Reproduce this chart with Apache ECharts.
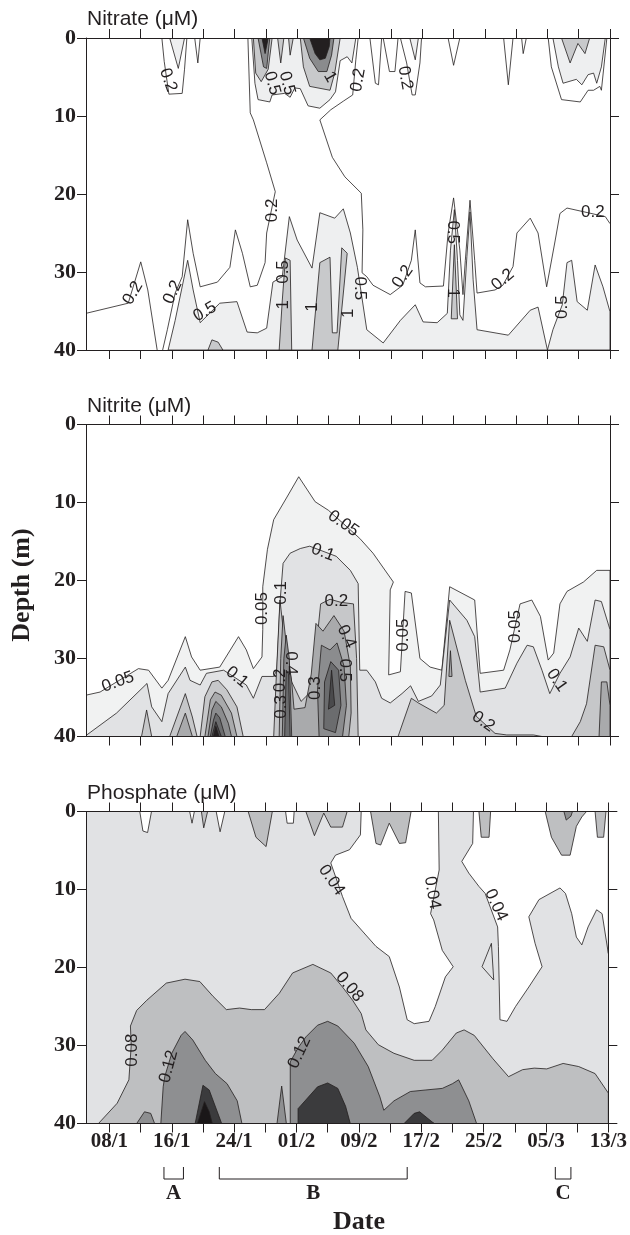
<!DOCTYPE html>
<html><head><meta charset="utf-8">
<script src="https://cdn.jsdelivr.net/npm/echarts@6/dist/echarts.min.js"></script>
<style>html,body{margin:0;padding:0;background:#fff}#c{width:630px;height:1235px}</style>
</head><body><div id="c"></div>
<script>
// x = day of year (1 = 1 Jan, non-leap year): 05/1 = 5 ... 13/3 = 72 ; y = depth (m)
const dayMin = 5, dayMax = 72;
const tickDays = [8,12,16,20,24,28,32,36,40,44,48,52,56,60,64,68,72];
const labelDays = [8,16,24,32,40,48,56,64,72];
const dateLabels = ['08/1','16/1','24/1','01/2','09/2','17/2','25/2','05/3','13/3'];
const panelTitles = ['Nitrate (\u03bcM)', 'Nitrite (\u03bcM)', 'Phosphate (\u03bcM)'];
const brackets = [['A',15.0,17.5],['B',22.1,46.2],['C',65.2,67.2]];

// ---------- Nitrate: contour levels 0.2, 0.5, 1, 2, 5 ----------
const nitrate02Lines = [
 [[5,35.3],[10.4,34],[12,28.7],[12.9,32.3],[14.1,40]],
 [[14.8,40],[15.4,37.4],[16.4,32.7],[17.3,30.6],[18.0,23.3],[18.7,27.6],[19.6,31.9],[21.8,31.3],[23.4,29.4],[24.1,24.6],[25.0,27.6],[26.0,31.9],[26.9,31.7],[27.9,28.8],[28.1,25.0],[29.2,19.7],[28.1,16.0],[26.4,10.5],[26.0,9.6],[25.7,0]],
 [[39.8,0],[39.5,2.8],[39.1,7.3],[37.9,8.1],[36.3,9.2],[34.9,10.5],[36.5,15.3],[38.1,17.8],[40.2,19.9],[40.4,24.6],[40.3,30.1],[40.9,30.6],[41.7,31.7],[43.9,32.9],[45.5,31.7],[46.6,28.5],[47.1,24.6],[47.7,31.4],[48.4,31.9],[50.7,31.8],[51.3,25.0],[52.0,20.5],[52.8,27.2],[53.2,32.9],[53.5,28.5],[54.1,20.8],[54.7,28.5],[55.0,32.7],[57.3,32.3],[58.3,31.7],[59.6,29.3],[60.1,25.0],[61.8,23.1],[62.8,25.0],[63.9,31.9],[65.0,25.9],[65.6,22.5],[66.5,21.8],[71.4,22.9],[72,23.8]]
];
const nitrate02Areas = [
 [[14.7,0],[15.0,3],[15.6,7.2],[17.3,7.1],[17.6,4],[17.9,0]],
 [[18.9,0],[19.3,3.2],[19.6,0]],
 [[41.3,0],[42.0,5.8],[42.4,6.0],[42.8,0]],
 [[43.0,0],[43.8,4.3],[44.5,4.3],[44.9,0]],
 [[45.2,0],[46.0,3.2],[46.7,7.3],[47.1,7.3],[47.7,3.2],[47.9,0]],
 [[51.3,0],[52.0,3.5],[52.8,0]],
 [[58.4,0],[59.0,6.0],[59.6,0]],
 [[60.7,0],[60.9,2.0],[61.3,0]],
 [[64.1,0],[64.5,3.7],[65.8,7.9],[68.2,8.2],[69.2,6.7],[69.9,6.7],[70.7,6.2],[70.9,6.7],[71.6,0]]
];
const nitrate05Areas = [
 [[15.5,40],[16.4,36.2],[18.0,28.5],[18.7,32.3],[19.6,36.5],[22.1,34.0],[24.3,33.8],[25.6,37.7],[26.9,37.8],[28.1,37.2],[28.9,31.3],[30.1,30.6],[31.0,22.9],[32.0,25.9],[33.9,29.5],[34.9,22.4],[36.8,23.1],[37.9,21.9],[38.8,25],[39.7,29.4],[40.9,37.4],[43.0,39.1],[45.2,36.2],[47.1,34.2],[48.1,36.4],[49.9,36.5],[51.2,35.3],[51.6,27.2],[52.1,22.0],[52.5,28.5],[52.8,35.5],[53.2,36.2],[53.7,28],[54.1,22.3],[54.5,31],[55.0,37.4],[59.0,38.1],[61.8,34.9],[62.8,34.5],[64.0,40],[64.7,37.4],[65.9,34.2],[66.5,28.8],[67.1,28.5],[67.8,33.8],[69.1,34.9],[70.1,29.1],[71.1,31.9],[72,35.1],[72,40]],
 [[15.7,0],[16.8,3.9],[17.6,0]],
 [[26.2,0],[26.6,5.8],[27.0,7.9],[28.5,8.2],[28.8,7.3],[30.4,7.1],[31.1,7.6],[31.7,6.4],[32.4,6.5],[33.4,8.7],[34.9,9.0],[36.2,7.9],[36.9,6.9],[37.5,2.9],[38.4,2.4],[39.0,3.2],[39.5,0]],
 [[46.4,0],[47.1,2.8],[47.5,0]],
 [[64.7,0],[65.4,3.7],[66.0,5.8],[67.7,5.3],[68.4,6.0],[69.2,4.7],[69.9,4.5],[70.3,5.8],[70.9,3.7],[71.4,0]]
];
const nitrate1Areas = [
 [[29.7,40],[30.1,33.6],[30.5,28.2],[31.1,28.5],[31.3,40]],
 [[33.9,40],[34.9,28.8],[36.2,28.1],[36.5,37.8],[37.1,37.8],[37.7,26.9],[38.4,27.6],[37.2,40]],
 [[20.6,40],[21.1,38.7],[21.9,39],[22.5,40]],
 [[51.7,36],[52.1,26.5],[52.5,36]],
 [[26.4,0],[26.7,4.5],[27.4,5.6],[28.3,4],[28.8,0]],
 [[29.5,0],[29.9,3.2],[30.3,0]],
 [[30.9,0],[31.1,2.2],[31.5,0]],
 [[32.4,0],[32.8,3.7],[33.6,6.2],[36.2,6.7],[36.8,4.5],[37.5,0]],
 [[65.8,0],[66.9,3.2],[67.9,0.7],[68.8,2.0],[69.4,0]]
];
const nitrate2Areas = [
 [[27.0,0],[27.7,3.7],[28.1,3.9],[28.5,0]],
 [[32.8,0],[33.6,2.6],[34.7,4.3],[35.8,4.3],[36.4,2.2],[36.7,0]]
];
const nitrate5Areas = [
 [[27.5,0],[27.9,2.0],[28.3,0]],
 [[33.6,0],[34.3,2.0],[34.9,2.8],[35.6,2.6],[36.1,1.1],[36.2,0]]
];
const nitrateLabels = [
 [15.5,5.4,'0.2',-70],[28.8,5.8,'0.5',-75],[30.7,5.8,'0.5',-75],[36.2,5.0,'1',-60],[39.8,5.4,'0.2',80],[45.8,5.1,'0.2',-80],
 [11.0,32.7,'0.2',60],[16.1,32.6,'0.2',65],[20.2,35.1,'0.5',30],[28.8,22.1,'0.2',90],[30.2,30,'0.5',90],[30.2,34.2,'1',90],
 [34.0,34.5,'1',90],[40.0,32.1,'0.5',-90],[38.5,35.3,'1',90],[45.5,30.6,'0.2',55],[51.9,24.9,'0.5',-90],[51.9,32.7,'1',-90],
 [58.3,31.0,'0.2',40],[69.8,22.3,'0.2',0],[65.9,34.5,'0.5',90]
];

// ---------- Nitrite: contour levels 0.05, 0.1, 0.2 ... 0.7 ----------
const nitrite005Areas = [
 [[5,34.7],[6.8,34.3],[11.7,31.3],[13.0,31.5],[14.7,33.8],[15.5,32.8],[17.7,27.2],[18.5,29.8],[19.6,31.5],[22.1,31.1],[24.5,27.2],[25.5,28.9],[26.4,31.3],[27.5,29.8],[27.6,26.3],[27.6,20.8],[28.2,16],[29.0,12.2],[30.7,9.3],[32.2,6.7],[34.3,9.9],[36.0,11.0],[37.9,12.7],[40.0,14.6],[41.7,16.5],[44.3,20.2],[43.9,21.2],[43.7,32.1],[45.2,31.7],[45.8,21.4],[46.6,21.6],[47.7,30.0],[49.0,31.1],[50.5,31.5],[51.5,20.8],[54.7,22.5],[55.4,31.9],[58.4,31.5],[59.2,28.9],[60.5,23.0],[62.0,22.5],[63.1,24.6],[64.1,30.2],[64.8,29.3],[65.6,23.0],[66.5,21.4],[68.6,20.2],[70.3,18.7],[72,18.7],[72,40],[5,40]]
];
const nitrite01Areas = [
 [[5,40],[5.1,39.8],[8.9,37.0],[12.8,33.2],[13.4,36.2],[14.7,38.1],[15.5,34.5],[17.7,31.1],[18.3,32.8],[19.6,33.4],[20.4,31.9],[22.6,31.5],[25.5,33.4],[26.4,35.1],[27.5,32.3],[29.0,32.3],[29.4,31.5],[29.8,22.9],[30.2,17.8],[31.1,16.5],[32.4,15.9],[33.6,15.6],[37.0,16.9],[38.8,18.7],[39.8,20.4],[40.0,31.5],[40.9,31.5],[42.0,33.0],[42.8,35.1],[43.9,35.7],[45.4,34.5],[46.5,33.5],[47.5,35.5],[49.2,34.8],[50.3,33.4],[51.5,22.5],[53.7,25.1],[54.7,27.2],[55.4,34.3],[58.6,33.8],[60.1,30.6],[61.4,28.3],[62.2,28.5],[63.3,31.5],[64.3,34.5],[65.6,31.9],[66.9,29.8],[68.0,26.1],[69.1,27.8],[70.1,22.5],[70.9,22.7],[72,26.3],[72,40]]
];
const nitrite02Areas = [
 [[12.1,40],[12.75,36.6],[13.4,40]],
 [[15.7,40],[17.7,34.5],[18.6,37.5],[19.2,40]],
 [[19.6,40],[20.2,34.9],[21.1,33.0],[21.9,32.8],[23.0,34.0],[24.3,36.2],[25.1,40]],
 [[29.0,40],[29.3,33],[29.8,22.5],[30.3,27],[31.3,33],[32.5,35.5],[34.0,34],[34.6,27],[35.0,23],[36.2,22.4],[37.6,22.8],[39.2,23],[39.6,30],[39.8,40]],
 [[44.9,40],[46.6,35.1],[47.5,35.7],[49.8,37.0],[50.8,36],[51.5,25.1],[53.5,32.8],[54.9,37.4],[57.3,39.6],[58.8,39.8],[62.2,39.8],[63.3,40]],
 [[67.1,40],[68.2,38.1],[69.0,35.8],[70.1,28.3],[71.2,28.5],[72,31.5],[72,40]]
];
const nitrite03Areas = [
 [[16.6,40],[17.7,37],[18.6,40]],
 [[20.2,40],[20.9,35.3],[21.5,34.3],[22.3,34.7],[23.6,37.0],[24.3,40]],
 [[29.7,40],[29.9,30],[30.2,24.5],[30.6,28],[31.3,33],[31.6,36.5],[33.0,36.3],[33.8,32],[34.4,25.5],[35.3,26.5],[36.7,24.5],[38.0,26.5],[38.8,31],[38.9,37],[38.6,40]],
 [[51.4,32.3],[51.6,29],[51.8,32.3]],
 [[70.6,40],[70.9,33],[71.6,33],[72,36],[72,40]]
];
const nitrite04Areas = [
 [[20.6,40],[21.1,36.6],[21.6,35.5],[22.3,36.2],[23.2,38.3],[23.6,40]],
 [[30.1,40],[30.3,30],[30.6,27],[31.0,30],[31.3,40]],
 [[34.8,40],[34.6,34],[35.1,28.3],[36.2,28.9],[37.1,28],[38.0,31],[38.3,36],[37.8,40]]
];
const nitrite05Areas = [
 [[20.9,40],[21.3,37.9],[21.6,37.0],[22.1,37.6],[22.8,40]],
 [[30.4,40],[30.6,31.5],[30.9,32],[31.1,40]],
 [[35.4,39],[35.5,33],[36.3,30.4],[37.3,31.5],[37.6,36],[36.9,39.5]]
];
const nitrite06Areas = [
 [[21.1,40],[21.6,38.1],[22.3,40]],
 [[36.0,36.5],[36.4,31.5],[36.8,36]]
];
const nitrite07Areas = [
 [[21.3,40],[21.6,38.7],[22.0,40]]
];
const nitriteLabels = [
 [9.1,33.0,'0.05',20],[24.3,32.4,'0.1',-40],[27.5,23.6,'0.05',90],[30.0,21.6,'0.1',90],[29.8,32.8,'0.2',90],[30.0,36.2,'0.3',90],
 [31.2,30.6,'0.4',-90],[34.3,33.8,'0.3',90],[37.9,12.7,'0.05',-35],[35.3,16.4,'0.1',-20],[37.0,22.7,'0.2',0],[38.3,27.2,'0.4',-65],
 [38.1,31.5,'0.5',-90],[45.6,27.0,'0.05',90],[59.9,25.9,'0.05',90],[65.2,32.8,'0.1',-55],[55.8,38.1,'0.2',-35]
];

// ---------- Phosphate: contour levels 0.04, 0.08, 0.12, 0.16, 0.20 ----------
const phosphate004Areas = [[[5,0],[72,0],[72,40],[5,40]]];
const phosphateBelow004Areas = [
 [[11.9,0],[12.3,2.5],[12.9,2.7],[13.4,0]],
 [[18.3,0],[18.6,1.5],[18.9,0]],
 [[21.7,0],[22.2,2.6],[22.8,0]],
 [[30.6,0],[30.8,1.5],[31.6,1.5],[31.7,0]],
 [[40.3,0],[40.2,3.0],[38.8,4.9],[37.0,5.6],[36.4,6.6],[37.9,10.9],[39.0,13.7],[42.2,17.3],[43.9,18.6],[45.2,22.5],[46.2,26.7],[47.1,27.2],[49.0,26.9],[49.8,25.0],[51.1,21.2],[52.1,19.9],[50.7,17.8],[49.6,13.9],[49.2,13.1],[50.3,7.5],[50.2,0]],
 [[54.7,0],[54.6,4.1],[53.2,6.4],[54.1,7.9],[55.4,9.6],[56.2,10.5],[57.8,14.8],[57.9,17.3],[58.1,26.7],[59.0,26.9],[60.1,25.0],[61.8,22.5],[63.5,19.9],[62.6,16.9],[61.8,13.5],[63.1,11.3],[65.8,9.8],[66.5,10.5],[67.3,13.1],[67.9,16.1],[68.6,17.1],[69.4,14.8],[70.5,12.6],[71.2,13.1],[72,18.2],[72,0]]
];
const phosphate004Islands = [
 [[55.8,19.9],[57.0,16.9],[57.3,21.6]]
];
const phosphate008Areas = [
 [[19.8,0],[20.1,2.1],[20.6,0]],
 [[25.8,0],[26.8,3.3],[28.1,4.5],[28.9,0]],
 [[33.2,0],[34.3,3.1],[35.5,0.2],[36.4,2.0],[37.9,2.0],[38.5,0]],
 [[41.5,0],[42.2,4.1],[42.8,4.3],[43.9,1.5],[45.2,4.1],[46.0,4.0],[46.7,0]],
 [[55.4,0],[55.7,3.3],[56.7,3.3],[56.9,0]],
 [[63.9,0],[64.7,3.3],[66.0,5.6],[67.1,5.6],[67.9,1.9],[68.6,0.7],[69.2,0]],
 [[70.3,0],[70.6,3.3],[71.4,3.3],[71.7,0]],
 [[6.6,40],[9.0,37.4],[10.5,34.4],[10.8,30],[10.7,27.5],[11.5,25.5],[12.8,24.2],[15.3,22.0],[17.7,21.5],[19.6,21.8],[21.3,23.7],[23.0,25.4],[24.7,25.2],[26.2,25.4],[27.9,25.4],[29.8,23.3],[31.5,20.7],[34.1,19.6],[36.4,20.7],[37.9,22.5],[39.2,24.2],[40.3,25.9],[40.9,28.0],[42.5,29.9],[44.5,31.0],[47.1,31.9],[49.4,31.9],[50.7,30.6],[52.5,28.4],[53.5,28.0],[54.8,28.7],[57.2,31.7],[59.2,34.0],[61.0,33.1],[62.5,32.9],[64.1,33.0],[66.2,32.3],[68.2,32.7],[70.3,33.6],[72,36.1],[72,40]]
];
const phosphate012Areas = [
 [[66.3,0],[66.6,1.1],[67.2,0.6],[67.4,0]],
 [[14.6,40],[14.9,35.3],[15.1,34.0],[16.0,31],[17.2,28.7],[17.7,28.2],[18.7,29.3],[20.3,31.9],[21.6,33.6],[23.1,34.9],[24.4,37.1],[25.0,40]],
 [[11.5,40],[12.5,38.5],[13.3,38.7],[13.8,40]],
 [[29.5,40],[30.1,35.2],[30.7,40]],
 [[31.2,40],[31.2,32.1],[32.2,30.3],[33.2,28.9],[34.7,27.4],[36.0,26.9],[37.3,27.5],[39.4,29.7],[41.2,32.7],[42.7,36.6],[43.2,38.3],[44.5,37.1],[46.6,35.9],[48.6,35.7],[50.7,35.5],[52.0,34.9],[52.8,34.4],[54.1,37.1],[55.1,40]]
];
const phosphate016Areas = [
 [[19.0,40],[20.0,35.1],[20.8,35.7],[22.4,40]],
 [[32.2,40],[32.2,38.1],[34.7,35.3],[36.0,34.8],[37.3,35.5],[38.3,37.8],[38.9,40]],
 [[45.8,40],[47.1,38.7],[47.8,38.5],[49.4,39.8],[49.7,40]]
];
const phosphate020Areas = [
 [[19.3,40],[20.2,37.2],[20.8,38.5],[21.2,40]]
];
const phosphateLabels = [
 [36.5,8.8,'0.04',-55],[49.4,10.4,'0.04',-80],[57.6,12.0,'0.04',-65],[38.8,22.5,'0.08',-50],
 [11.0,30.6,'0.08',90],[15.6,32.7,'0.12',75],[32.4,30.9,'0.12',65]
];

// ---------- styles ----------
const INK = '#231f20';
const shadeNitrate = ['#ffffff','#eeeff0','#c8c9cb','#8a8b8d','#231f20'];
const shadeNitrite = ['#f1f2f2','#e1e2e4','#c6c7c9','#a9aaac','#8b8c8e','#6b6c6e','#4a4a4c','#231f20'];
const shadePhosphate = ['#ffffff','#e1e2e4','#bebfc1','#8e8f91','#3b3b3d','#1a1718'];

function areas(list, fill, stroke){ return list.map(p => ({pts:p, fill:fill, stroke: stroke === false ? null : INK})); }
const panelShapes = [
 [].concat(
   areas(nitrate02Areas, shadeNitrate[0]),
   nitrate02Lines.map(p => ({pts:p, line:true})),
   areas(nitrate05Areas, shadeNitrate[1]),
   areas(nitrate1Areas, shadeNitrate[2]),
   areas(nitrate2Areas, shadeNitrate[3]),
   areas(nitrate5Areas, shadeNitrate[4])),
 [].concat(
   areas(nitrite005Areas, shadeNitrite[0]),
   areas(nitrite01Areas, shadeNitrite[1]),
   areas(nitrite02Areas, shadeNitrite[2]),
   areas(nitrite03Areas, shadeNitrite[3]),
   areas(nitrite04Areas, shadeNitrite[4]),
   areas(nitrite05Areas, shadeNitrite[5]),
   areas(nitrite06Areas, shadeNitrite[6]),
   areas(nitrite07Areas, shadeNitrite[7])),
 [].concat(
   areas(phosphate004Areas, shadePhosphate[1], false),
   areas(phosphateBelow004Areas, shadePhosphate[0]),
   areas(phosphate004Islands, shadePhosphate[1]),
   areas(phosphate008Areas, shadePhosphate[2]),
   areas(phosphate012Areas, shadePhosphate[3]),
   areas(phosphate016Areas, shadePhosphate[4]),
   areas(phosphate020Areas, shadePhosphate[5]))
];
const panelLabels = [nitrateLabels, nitriteLabels, phosphateLabels];

const gridTops = [38, 424.5, 811.5];
const serif = '"Liberation Serif","Times New Roman",serif';
const sans = '"Liberation Sans",Arial,sans-serif';

const grid = [], xAxis = [], yAxis = [], series = [];
gridTops.forEach((t, g) => {
  grid.push({left:86, top:t, width:524, height:312, containLabel:false});
  const line = {show:true, onZero:false, lineStyle:{color:INK, width:1}};
  const tick = {show:true, inside:false, length:9, lineStyle:{color:INK, width:1}};
  xAxis.push({gridIndex:g, type:'value', min:dayMin, max:dayMax, position:'bottom', z:10,
    axisLine:line, axisTick:Object.assign({customValues:tickDays}, tick), splitLine:{show:false},
    axisLabel:{show:g===2, customValues:labelDays, margin:8, color:INK, fontFamily:serif, fontWeight:'bold', fontSize:21,
      formatter:v => dateLabels[labelDays.indexOf(Math.round(v))]}});
  xAxis.push({gridIndex:g, type:'value', min:dayMin, max:dayMax, position:'top', z:10,
    axisLine:line, axisTick:Object.assign({customValues:tickDays}, tick), splitLine:{show:false}, axisLabel:{show:false}});
  yAxis.push({gridIndex:g, type:'value', inverse:true, min:0, max:40, interval:10, position:'left', z:10,
    axisLine:line, axisTick:tick, splitLine:{show:false},
    axisLabel:{margin:10, color:INK, fontFamily:serif, fontWeight:'bold', fontSize:22}});
  yAxis.push({gridIndex:g, type:'value', inverse:true, min:0, max:40, interval:10, position:'right', z:10,
    axisLine:line, axisTick:tick, splitLine:{show:false}, axisLabel:{show:false}});
  const shapes = panelShapes[g];
  series.push({type:'custom', coordinateSystem:'cartesian2d', xAxisIndex:g*2, yAxisIndex:g*2, z:2, silent:true, clip:true,
    data: shapes.map((s, i) => [s.pts[0][0], s.pts[0][1], i]),
    renderItem: (params, api) => {
      const s = shapes[api.value(2)];
      const points = s.pts.map(p => api.coord(p));
      if (s.line) return {type:'polyline', shape:{points}, style:{fill:null, stroke:INK, lineWidth:0.8}};
      return {type:'polygon', shape:{points}, style:{fill:s.fill, stroke:s.stroke, lineWidth:0.8}};
    }});
  const labs = panelLabels[g];
  series.push({type:'custom', coordinateSystem:'cartesian2d', xAxisIndex:g*2, yAxisIndex:g*2, z:3, silent:true,
    data: labs.map((l, i) => [l[0], l[1], i]),
    renderItem: (params, api) => {
      const l = labs[api.value(2)];
      const c = api.coord([l[0], l[1]]);
      return {type:'text', x:c[0], y:c[1], rotation:l[3]*Math.PI/180,
        style:{text:l[2], font:'17px ' + sans, fill:INK, align:'center', verticalAlign:'middle'}};
    }});
});

const chart = echarts.init(document.getElementById('c'), null, {renderer:'canvas'});
chart.setOption({animation:false, backgroundColor:'#fff', grid, xAxis, yAxis, series});

const graphic = [];
panelTitles.forEach((t, g) => graphic.push({type:'text', x:87, y:gridTops[g]-8,
  style:{text:t, font:'21px ' + sans, fill:INK, align:'left', verticalAlign:'bottom'}}));
graphic.push({type:'text', x:22, y:585, rotation:Math.PI/2,
  style:{text:'Depth (m)', font:'bold 26px ' + serif, fill:INK, align:'center', verticalAlign:'middle'}});
graphic.push({type:'text', x:359, y:1222,
  style:{text:'Date', font:'bold 26px ' + serif, fill:INK, align:'center', verticalAlign:'middle'}});
brackets.forEach(b => {
  const x1 = chart.convertToPixel({xAxisIndex:4}, b[1]);
  const x2 = chart.convertToPixel({xAxisIndex:4}, b[2]);
  graphic.push({type:'polyline', shape:{points:[[x1,1167],[x1,1179],[x2,1179],[x2,1167]]}, style:{fill:null, stroke:INK, lineWidth:1}});
  graphic.push({type:'text', x:(x1+x2)/2, y:1194, style:{text:b[0], font:'bold 21px ' + serif, fill:INK, align:'center', verticalAlign:'middle'}});
});
chart.setOption({graphic});
</script>
</body></html>
